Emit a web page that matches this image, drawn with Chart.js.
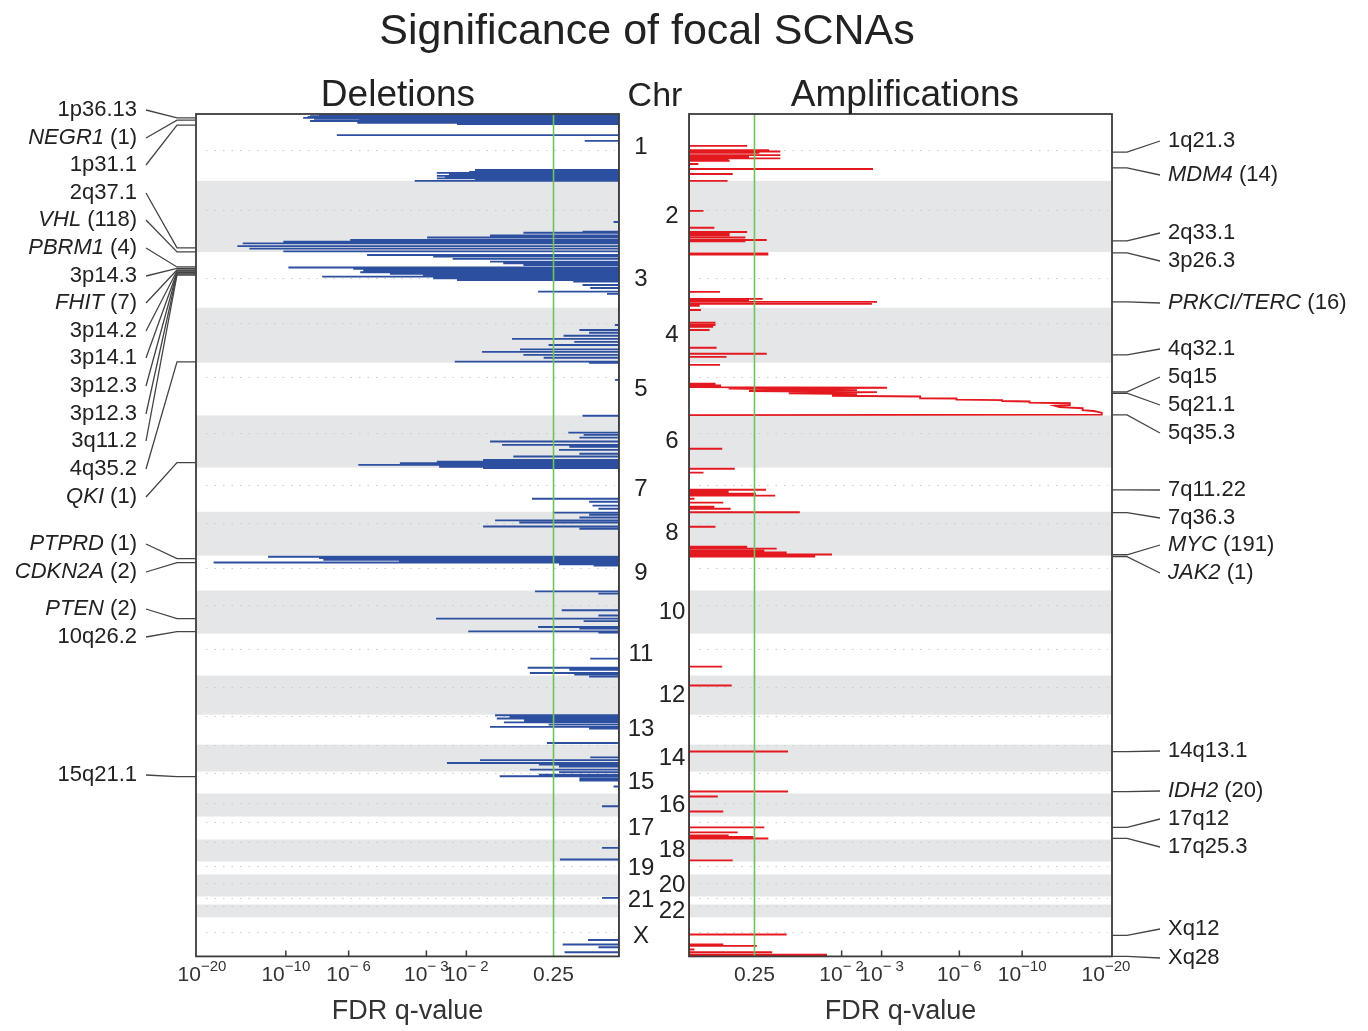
<!DOCTYPE html>
<html><head><meta charset="utf-8">
<script src="https://cdn.jsdelivr.net/npm/chart.js@4.4.1/dist/chart.umd.min.js"></script>
<style>
body{margin:0;background:#fff;width:1368px;height:1031px;position:relative;overflow:hidden;font-family:"Liberation Sans",Arial,sans-serif;color:#222}
.t{position:absolute;white-space:nowrap;transform:translate(-50%,-50%);line-height:1}
canvas{position:absolute;top:0}
</style></head><body>
<canvas id="del" width="688" height="1031" style="left:0"></canvas>
<canvas id="amp" width="680" height="1031" style="left:688px"></canvas>
<div class="t" style="left:647px;top:29px;font-size:43px">Significance of focal SCNAs</div>
<div class="t" style="left:398px;top:93px;font-size:37px">Deletions</div>
<div class="t" style="left:655px;top:94px;font-size:34px">Chr</div>
<div class="t" style="left:905px;top:93px;font-size:37px">Amplifications</div>
<script>
// ---------------- DATA ----------------
const chromNames = ['1','2','3','4','5','6','7','8','9','10','11','12','13','14','15','16','17','18','19','20','21','22','X'];
const chromStart = [0,241,497,698,896,1086,1274,1433,1591,1717,1872,2023,2164,2272,2369,2448,2531,2614,2693,2740,2819,2848,2894];
const genomeEnd = 3035;
const centromeres = [130,346,590,752,947,1148,1336,1472,1634,1768,1926,2063,2168,2275,2375,2484,2552,2624,2711,2772,2826,2855,2948];

// x-axis ticks (FDR q-values)
const tickQ = [1e-20, 1e-10, 1e-6, 1e-3, 1e-2, 0.25];
const tickBase = ['10','10','10','10','10','0.25'];
const tickExp = ['\u221220','\u221210','\u2212 6','\u2212 3','\u2212 2',''];
const qThreshold = 0.25;

// deletion peaks: [genome position Mb, -log10(q)]
const delSpikes = [
 [5,7.66],[8,8.24],[11,8.4],[14,8.71],[17,7.98],[20,5.49],[25,8.24],[32,5.58],[36,2.21],[76,6.62],[97,0.28],
 [202,1.82],[209,1.94],[212,2.71],[218,2.4],[223,2.71],[227,2.5],[232,2.71],[238,1.82],[241,3.35],
 [389,0.04],[424,0.3],[428,0.99],[438,1.53],[445,2.98],[454,5.92],[460,10.2],[466,14.0],[476,14.6],[485,13.3],[495,10.2],
 [508,5.13],[514,2.81],[522,2.31],[532,1.53],[538,1.3],[544,0.99],[553,9.8],[558,5.77],[564,5.3],[570,5.44],[576,4.2],[581,3.1],[586,7.47],[592,2.81],[598,2.21],[604,0.39],[616,0.3],[627,0.23],[640,0.79],[648,0.09],
 [760,0.03],[778,0.33],[788,0.24],[799,0.49],[810,1.16],[821,0.38],[832,0.66],[848,1.04],[857,1.68],[868,0.99],[878,0.72],[892,2.26],[896,0.24],
 [958,0.03],
 [1087,0.3],[1148,0.44],[1156,0.29],[1166,0.33],[1180,1.53],[1192,1.32],[1199,0.43],[1210,0.54],[1224,0.33],[1234,1.14],[1246,1.66],[1253,2.71],[1258,3.84],[1264,5.53],[1271,2.65],[1276,1.66],
 [1386,0.87],[1397,0.24],[1411,0.21],[1422,0.16],
 [1436,0.61],[1444,0.24],[1454,0.33],[1464,1.44],[1472,1.05],[1486,1.66],[1494,0.33],
 [1595,11.5],[1600,7.66],[1606,7.4],[1611,3.87],[1616,17.5],[1622,0.54],[1627,0.2],
 [1720,0.83],[1728,0.16],[1788,0.51],[1807,0.16],[1818,2.73],[1827,0.29],[1848,0.79],[1854,0.33],[1864,1.96],[1868,0.16],
 [1962,0.23],[1995,0.93],[2002,0.43],[2014,0.9],[2020,0.38],[2027,0.24],
 [2166,1.44],[2173,1.2],[2178,1.41],[2185,0.98],[2192,1.29],[2200,0.66],[2208,1.53],[2214,0.24],[2266,0.68],
 [2318,0.23],[2328,1.72],[2338,2.45],[2344,0.78],[2351,0.54],[2362,0.9],
 [2371,0.54],[2380,0.78],[2386,1.36],[2394,0.33],[2401,0.33],[2423,0.04],
 [2494,0.13],[2644,0.13],[2686,0.53],[2824,0.13],
 [2976,0.25],[2992,0.5],[3002,0.16],[3020,0.48]
];

// amplification peaks: [genome position Mb, -log10(q)]
const ampSpikes = [
 [115,0.52],[130,0.78],[135,0.93],[140,0.66],[148,0.93],[155,0.54],[160,0.93],[166,0.33],[169,0.34],[180,0.07],[198,2.76],[216,0.37],[241,0.32],
 [349,0.11],[410,0.2],[425,0.52],[432,0.34],[437,0.34],[445,0.5],[454,0.75],[459,0.5],
 [502,0.77],[506,0.77],[641,0.25],[666,0.7],[673,0.54],[677,2.87],[684,2.73],[691,0.08],
 [706,0.09],[752,0.21],[760,0.21],[767,0.19],[778,0.16],[842,0.22],[864,0.75],[875,0.31],[904,0.25],
 [972,0.21],[978,0.26],
 [1206,0.27],
 [1278,0.39],[1292,0.11],[1354,0.74],[1361,0.33],[1368,0.62],[1375,0.86],[1386,0.04],[1400,0.28],[1415,0.2],[1422,0.35],[1435,1.22],
 [1487,0.21],[1559,0.52],[1566,0.88],[1573,0.72],[1580,1.02],[1587,1.8],
 [1591,1.48],[1594,1.48],
 [1991,0.27],[2059,0.36],[2297,1.04],[2441,1.04],[2459,0.23],[2513,0.28],
 [2570,0.72],[2588,0.42],[2599,0.33],[2605,0.59],[2610,0.77],[2689,0.37],
 [2956,1.02],[2992,0.28],[2997,0.63],[3010,0.04],[3020,0.82],[3029,1.7],[3033,1.7]
];
// broad 5q amplification profile (connected run)
const amp5qRun = [
 [984,0],[986,3.16],[989,0.33],[995,2.35],[998,0.54],[1002,2.87],[1006,1.05],[1009,2.35],[1015,1.8],[1018,4.28],
 [1024,4.28],[1025,5.86],[1029,5.86],[1031,8.53],[1034,8.53],[1036,10.6],[1040,10.6],[1042,14.5],[1049,14.5],
 [1051,12.9],[1056,13.4],[1060,16.0],[1067,16.0],[1070,17.4],[1076,18.5],[1083,18.5],[1085,0]
];

// peak annotations
const delLabels = ['1p36.13','NEGR1 (1)','1p31.1','2q37.1','VHL (118)','PBRM1 (4)','3p14.3','FHIT (7)','3p14.2','3p14.1','3p12.3','3p12.3','3q11.2','4q35.2','QKI (1)','PTPRD (1)','CDKN2A (2)','PTEN (2)','10q26.2','15q21.1'];
const delLabelPos = [14,22,40,482,497,551,556,562,565,569,572,576,580,893,1256,1602,1616,1818,1865,2387];
const ampLabels = ['1q21.3','MDM4 (14)','2q33.1','3p26.3','PRKCI/TERC (16)','4q32.1','5q15','5q21.1','5q35.3','7q11.22','7q36.3','MYC (191)','JAK2 (1)','14q13.1','IDH2 (20)','17q12','17q25.3','Xq12','Xq28'];
const ampLabelPos = [137,194,457,500,677,868,1001,1006,1084,1354,1436,1588,1595,2297,2441,2570,2610,2959,3035];

// ---------------- LAYOUT / STYLE ----------------
const FONT = '"Liberation Sans", Arial, Helvetica, sans-serif';
const layoutCfg = {
  delSlots: [110,138,165,193,220,248,276,303,331,358,386,414,441,469,497,544,572,609,637,775],
  ampSlots: [141,175,233,261,303,349,377,405,433,490,518,545,573,751,791,819,847,929,958],
  oddChrX: 641, evenChrX: 672
};
const T = s => Math.log10(1 + s);        // display transform of -log10(q)
const TMAX = T(20);

function buildLine(spikes, runs) {
  const segs = spikes.map(([p, s]) => [[p, 0], [p, s], [p, 0]]);
  runs.forEach(r => segs.push(r));
  segs.sort((a, b) => a[0][0] - b[0][0]);
  const pts = [{x: 0, y: 0}];
  segs.forEach(seg => seg.forEach(([p, s]) => pts.push({x: T(s), y: p})));
  pts.push({x: 0, y: genomeEnd});
  return pts;
}

function drawLabel(ctx, text, x, y, align) {
  const k = text.indexOf(' (');
  const gene = k >= 0 ? text.slice(0, k) : null;
  const rest = k >= 0 ? text.slice(k) : text;
  ctx.textBaseline = 'middle';
  ctx.fillStyle = '#222';
  const fi = 'italic 22px ' + FONT, fn = '22px ' + FONT;
  ctx.font = fi; const wg = gene ? ctx.measureText(gene).width : 0;
  ctx.font = fn; const wr = ctx.measureText(rest).width;
  let x0 = align === 'right' ? x - wg - wr : x;
  ctx.textAlign = 'left';
  if (gene) { ctx.font = fi; ctx.fillText(gene, x0, y); }
  ctx.font = fn; ctx.fillText(rest, x0 + wg, y);
}

const panelPlugin = {
  id: 'panel',
  beforeDatasetsDraw(chart, args, opts) {
    const {ctx, chartArea: a, scales: {y}} = chart;
    ctx.save();
    ctx.fillStyle = '#e5e6e8';
    chromStart.forEach((s, i) => {
      if (i % 2 === 1) {
        const e = i + 1 < chromStart.length ? chromStart[i + 1] : genomeEnd;
        const y0 = y.getPixelForValue(s), y1 = y.getPixelForValue(e);
        ctx.fillRect(a.left, y0, a.right - a.left, y1 - y0);
      }
    });
    ctx.strokeStyle = '#cbcbcb'; ctx.lineWidth = 1.2; ctx.setLineDash([1.5, 7]);
    centromeres.forEach(c => {
      const yy = Math.round(y.getPixelForValue(c)) + 0.5;
      ctx.beginPath(); ctx.moveTo(a.left + 10, yy); ctx.lineTo(a.right - 4, yy); ctx.stroke();
    });
    ctx.restore();
  },
  afterDatasetsDraw(chart, args, opts) {
    const {ctx, chartArea: a, scales: {x, y}} = chart;
    ctx.save();
    // threshold line
    const gx = x.getPixelForValue(T(-Math.log10(qThreshold)));
    ctx.strokeStyle = '#70c25e'; ctx.lineWidth = 1.6;
    ctx.beginPath(); ctx.moveTo(gx, a.top); ctx.lineTo(gx, a.bottom); ctx.stroke();
    // frame
    ctx.strokeStyle = '#3b3b3b'; ctx.lineWidth = 1.8;
    ctx.strokeRect(a.left, a.top, a.right - a.left, a.bottom - a.top);
    // inner tick marks + tick labels with superscripts
    ctx.lineWidth = 1.5;
    const fb = '21px ' + FONT, fe = '15px ' + FONT;
    ctx.fillStyle = '#333'; ctx.textBaseline = 'middle'; ctx.textAlign = 'left';
    tickQ.forEach((q, i) => {
      const px = x.getPixelForValue(T(-Math.log10(q)));
      if (q !== 1e-20 && q !== qThreshold) {
        ctx.beginPath(); ctx.moveTo(px, a.bottom); ctx.lineTo(px, a.bottom - 6); ctx.stroke();
      }
      ctx.font = fb; const wb = ctx.measureText(tickBase[i]).width;
      ctx.font = fe; const we = ctx.measureText(tickExp[i]).width;
      const x0 = px - (wb + we) / 2 + (i === 0 ? (opts.side === 'del' ? 6 : -6) : 0);
      ctx.font = fb; ctx.fillText(tickBase[i], x0, a.bottom + 19);
      ctx.font = fe; ctx.fillText(tickExp[i], x0 + wb, a.bottom + 10);
    });
    // annotations
    ctx.strokeStyle = '#444'; ctx.lineWidth = 1.3;
    if (opts.side === 'del') {
      delLabels.forEach((t, i) => {
        const sy = layoutCfg.delSlots[i], ty = y.getPixelForValue(delLabelPos[i]);
        ctx.beginPath(); ctx.moveTo(146, sy); ctx.lineTo(177, ty); ctx.lineTo(a.left, ty); ctx.stroke();
        drawLabel(ctx, t, 137, sy, 'right');
      });
      ctx.font = '24px ' + FONT; ctx.fillStyle = '#222'; ctx.textAlign = 'center'; ctx.textBaseline = 'middle';
      chromNames.forEach((n, i) => {
        const e = i + 1 < chromStart.length ? chromStart[i + 1] : genomeEnd;
        const my = y.getPixelForValue((chromStart[i] + e) / 2);
        ctx.fillText(n, i % 2 === 0 ? layoutCfg.oddChrX : layoutCfg.evenChrX, my);
      });
    } else {
      ampLabels.forEach((t, i) => {
        const sy = layoutCfg.ampSlots[i], ty = y.getPixelForValue(ampLabelPos[i]);
        ctx.beginPath(); ctx.moveTo(a.right, ty); ctx.lineTo(a.right + 15, ty); ctx.lineTo(a.right + 48, sy); ctx.stroke();
        drawLabel(ctx, t, a.right + 56, sy, 'left');
      });
    }
    ctx.restore();
  }
};

function makeChart(id, side, spikes, runs, color, pad) {
  return new Chart(document.getElementById(id), {
    type: 'scatter',
    data: {datasets: [{
      data: buildLine(spikes, runs), showLine: true, borderColor: color, borderWidth: 1.9,
      pointRadius: 0, pointHoverRadius: 0, tension: 0, fill: false
    }]},
    options: {
      responsive: false, animation: false, devicePixelRatio: 1, events: [],
      layout: {padding: pad},
      plugins: {legend: {display: false}, tooltip: {enabled: false}, panel: {side}},
      scales: {
        x: {
          type: 'linear', min: 0, max: TMAX, reverse: side === 'del',
          grid: {display: false, drawTicks: false, tickLength: 0}, border: {display: false},
          afterBuildTicks: sc => { sc.ticks = tickQ.map(q => ({value: T(-Math.log10(q))})); },
          ticks: {autoSkip: false, maxRotation: 0, minRotation: 0, padding: 4, color: 'rgba(0,0,0,0)',
                  font: {family: FONT, size: 21}, callback: (v, i) => tickBase[i] + tickExp[i]},
          title: {display: true, text: 'FDR q-value', color: '#333', font: {family: FONT, size: 27}, padding: {top: 6, bottom: 0}}
        },
        y: {type: 'linear', min: 0, max: genomeEnd, reverse: true, display: false}
      }
    },
    plugins: [panelPlugin]
  });
}

makeChart('del', 'del', delSpikes, [], '#2d4fa0', {left: 196, right: 69, top: 114, bottom: 3});
makeChart('amp', 'amp', ampSpikes, [amp5qRun], '#e3191f', {left: 1, right: 256, top: 114, bottom: 3});
</script>
</body></html>
